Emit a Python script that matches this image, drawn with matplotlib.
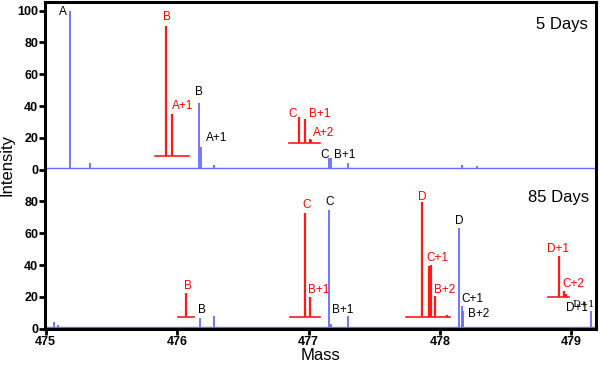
#!/usr/bin/env python3
"""Stacked mass spectra (5 days / 85 days) with zoomed red insets."""
import matplotlib

matplotlib.use("Agg")
import matplotlib.pyplot as plt

plt.rcParams["font.family"] = ["Liberation Sans", "DejaVu Sans"]

BLUE = "#6a6aff"
RED = "#ff1a1a"
OFFSET = 100  # top spectrum is stacked on top of the bottom one

# --- 5 days (top) ---
top_peak_mass = [475.182, 475.337, 476.167, 476.185, 476.280, 477.155, 477.168, 477.300, 478.170, 478.280]
top_peak_int = [100, 4, 42, 14, 3, 7, 7, 4, 3, 2.5]
top_insets = [
    # (start, end, baseline, peak masses, peak heights)
    (475.83, 476.09, 8.8, [475.919, 475.962], [90.6, 35]),
    (476.851, 477.084, 16.8, [476.927, 476.976, 477.008, 477.020], [32.9, 31.9, 19.5, 18.5]),
]
top_labels = [
    ("A", 475.132, 99.4, "k"), ("B", 475.920, 96.0, "r"), ("A+1", 476.04, 39.7, "r"),
    ("B", 476.165, 48.9, "k"), ("A+1", 476.30, 19.8, "k"),
    ("C", 476.877, 35.1, "r"), ("B+1", 477.084, 35.1, "r"), ("A+2", 477.117, 22.9, "r"),
    ("C", 477.122, 9.3, "k"), ("B+1", 477.274, 9.3, "k"),
]

# --- 85 days (bottom) ---
bot_peak_mass = [475.060, 475.095, 476.172, 476.279, 477.155, 477.168, 477.302, 478.141, 478.164, 478.174, 479.146]
bot_peak_int = [4, 2, 6.7, 7.7, 74.4, 3, 7.7, 63.3, 14, 10.9, 10.9]
bot_insets = [
    (476.008, 476.127, 7.1, [476.064], [22.5]),
    (476.862, 477.090, 7.1, [476.976, 477.008], [72.8, 19.9]),
    (477.738, 478.078, 7.1, [477.862, 477.913, 477.928, 477.964, 478.052], [79.4, 39.2, 40.2, 20.3, 8.8]),
    (478.825, 478.979, 19.9, [478.903, 478.941, 478.962], [45.9, 23.5, 22]),
]
bot_labels = [
    ("B", 476.081, 27.0, "r"), ("B", 476.192, 11.5, "k"),
    ("C", 476.983, 77.5, "r"), ("C", 477.160, 79.4, "k"),
    ("B+1", 477.077, 24.1, "r"), ("B+1", 477.259, 11.5, "k"),
    ("D", 477.862, 82.8, "r"), ("C+1", 477.977, 44.4, "r"), ("B+2", 478.038, 24.1, "r"),
    ("D", 478.146, 67.4, "k"), ("C+1", 478.249, 18.7, "k"), ("B+2", 478.293, 9.4, "k"),
    ("D+1", 478.900, 50.1, "r"), ("C+2", 479.017, 28.1, "r"), ("D+1", 479.045, 13.0, "k"),
]

x_ticks = [475, 476, 477, 478, 479]
y_ticks = [0, 20, 40, 60, 80, 100, 120, 140, 160, 180, 200]
y_tick_labels = ["0", "20", "40", "60", "80", "0", "20", "40", "60", "80", "100"]

XMIN, XMAX = 474.995, 479.185
BASE = 1.0


def draw_spectrum(ax, masses, heights, insets, labels, off):
    ax.plot([XMIN, XMAX], [off + BASE, off + BASE], color=BLUE, lw=1.0, zorder=2)
    ax.vlines(masses, off + BASE, [off + h for h in heights], color=BLUE, lw=1.3, zorder=2)
    for x0, x1, base, pm, ph in insets:
        ax.plot([x0, x1], [off + base, off + base], color=RED, lw=1.2, zorder=3)
        ax.vlines(pm, off + base, [off + h for h in ph], color=RED, lw=1.6, zorder=3)
    for txt, x, y, c in labels:
        ax.text(x, off + y, txt, color="red" if c == "r" else "black",
                ha="center", va="center", fontsize=8.5)


fig = plt.figure(figsize=(6, 3.71), dpi=100)
ax = fig.add_axes([0.075, 0.113, 0.918, 0.882])

draw_spectrum(ax, top_peak_mass, top_peak_int, top_insets, top_labels, OFFSET)
draw_spectrum(ax, bot_peak_mass, bot_peak_int, bot_insets, bot_labels, 0)

# the doubled "D+1" glitch in the original
ax.text(479.09, 15.1, "D+1", family="DejaVu Serif", fontsize=7, ha="center", va="center")

ax.text(478.928, 191.0, "5 Days", fontsize=12, ha="center", va="center")
ax.text(478.900, 82.5, "85 Days", fontsize=12, ha="center", va="center")

ax.set_xlim(XMIN, XMAX)
ax.set_ylim(-0.3, 205.5)
ax.set_xticks(x_ticks)
ax.set_yticks(y_ticks)
ax.set_yticklabels(y_tick_labels)
ax.tick_params(direction="out", length=4, width=2, labelsize=9, pad=1)
for lab in ax.get_xticklabels() + ax.get_yticklabels():
    lab.set_fontweight("bold")
for s in ax.spines.values():
    s.set_linewidth(2.2)

ax.set_xlabel("Mass", fontsize=12, labelpad=0)
ax.set_ylabel("Intensity", fontsize=12, labelpad=2)

fig.savefig("out.png", dpi=100)
